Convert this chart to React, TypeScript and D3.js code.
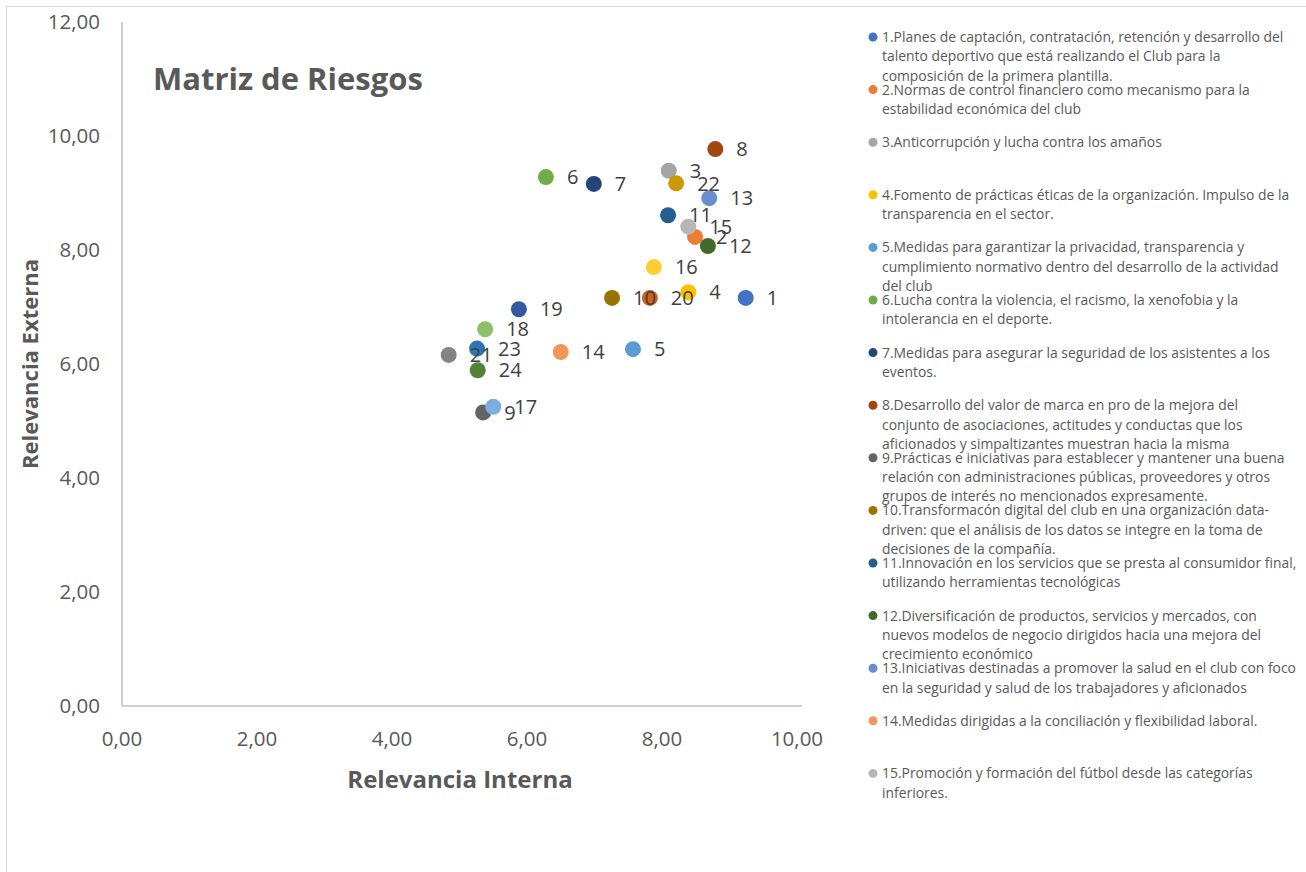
import React from 'react';
import * as d3 from 'd3';

const pointIds = ['1','2','3','4','5','6','7','8','9','10','11','12','13','14','15','16','17','18','19','20','21','22','23','24'];
const relevanciaInterna = [9.24, 8.49, 8.10, 8.39, 7.57, 6.28, 6.99, 8.79, 5.35, 7.26, 8.09, 8.68, 8.70, 6.50, 8.39, 7.88, 5.50, 5.38, 5.88, 7.82, 4.84, 8.21, 5.26, 5.27];
const relevanciaExterna = [7.16, 8.23, 9.39, 7.26, 6.26, 9.28, 9.16, 9.77, 5.15, 7.16, 8.61, 8.07, 8.91, 6.21, 8.41, 7.70, 5.25, 6.61, 6.96, 7.16, 6.16, 9.17, 6.27, 5.89];
const pointColors = ['#4472C4','#ED7D31','#A5A5A5','#FFC000','#5B9BD5','#70AD47','#264478','#9E480E','#636363','#997300','#255E91','#43682B','#698ED0','#F1975A','#B7B7B7','#FFCD33','#7CAFDD','#8CC168','#335AA1','#D0601A','#848484','#CC9A00','#2E75B6','#548235'];

const legendLabels = [
  '1.Planes de captación, contratación, retención y desarrollo del\ntalento deportivo que está realizando el Club para la\ncomposición de la primera plantilla.',
  '2.Normas de control financiero como mecanismo para la\nestabilidad económica del club',
  '3.Anticorrupción y lucha contra los amaños',
  '4.Fomento de prácticas éticas de la organización. Impulso de la\ntransparencia en el sector.',
  '5.Medidas para garantizar la privacidad, transparencia y\ncumplimiento normativo dentro del desarrollo de la actividad\ndel club',
  '6.Lucha contra la violencia, el racismo, la xenofobia y la\nintolerancia en el deporte.',
  '7.Medidas para asegurar la seguridad de los asistentes a los\neventos.',
  '8.Desarrollo del valor de marca en pro de la mejora del\nconjunto de asociaciones, actitudes y conductas que los\naficionados y simpaltizantes muestran hacia la misma',
  '9.Prácticas e iniciativas para establecer y mantener una buena\nrelación con administraciones públicas, proveedores y otros\ngrupos de interés no mencionados expresamente.',
  '10.Transformacón digital del club en una organización data-\ndriven: que el análisis de los datos se integre en la toma de\ndecisiones de la compañía.',
  '11.Innovación en los servicios que se presta al consumidor final,\nutilizando herramientas tecnológicas',
  '12.Diversificación de productos, servicios y mercados, con\nnuevos modelos de negocio dirigidos hacia una mejora del\ncrecimiento económico',
  '13.Iniciativas destinadas a promover la salud en el club con foco\nen la seguridad y salud de los trabajadores y aficionados',
  '14.Medidas dirigidas a la conciliación y flexibilidad laboral.',
  '15.Promoción y formación del fútbol desde las categorías\ninferiores.',
];

const chartTitle = 'Matriz de Riesgos';
const xTitle = 'Relevancia Interna';
const yTitle = 'Relevancia Externa';
const xTickValues = [0, 2, 4, 6, 8, 10];
const yTickValues = [0, 2, 4, 6, 8, 10, 12];

const FONT = "'Open Sans', 'Noto Sans', sans-serif";
const TEXT = '#595959';

export default function App() {
  const W = 1306, H = 872;
  const x = d3.scaleLinear().domain([0, 10]).range([122, 797]);
  const y = d3.scaleLinear().domain([0, 12]).range([706, 22]);
  const locale = d3.formatLocale({ decimal: ',', thousands: '.', grouping: [3], currency: ['', '€'] });
  const fmt = locale.format('.2f');
  const idx = d3.range(pointIds.length);

  const legendX = 873;
  const legendY0 = 37;
  const legendStep = 52.6;
  const lineH = 19.3;

  return (
    <svg width={W} height={H} style={{ position: 'absolute', left: 0, top: 0, background: '#fff' }} fontFamily={FONT}>
      <rect x={0} y={0} width={W} height={H} fill="#fff" />
      <rect x={6.5} y={6.5} width={W + 20} height={H + 20} fill="none" stroke="#D9D9D9" strokeWidth={1} />

      <line x1={x(0)} x2={x(10) + 5} y1={y(0)} y2={y(0)} stroke="#BFBFBF" strokeWidth={1.5} />
      <line x1={x(0)} x2={x(0)} y1={y(0)} y2={y(12)} stroke="#BFBFBF" strokeWidth={1.5} />

      {yTickValues.map(v => (
        <text key={'y' + v} x={100} y={y(v)} dy="0.36em" textAnchor="end" fontSize={20.5} fill={TEXT}>{fmt(v)}</text>
      ))}
      {xTickValues.map(v => (
        <text key={'x' + v} x={x(v)} y={739} dy="0.36em" textAnchor="middle" fontSize={20.5} fill={TEXT}>{fmt(v)}</text>
      ))}

      <text x={460} y={788} textAnchor="middle" fontSize={24} fontWeight="bold" fill={TEXT}>{xTitle}</text>
      <text transform={`translate(38,${364}) rotate(-90)`} textAnchor="middle" fontSize={22} fontWeight="bold" fill={TEXT}>{yTitle}</text>

      <text x={153} y={90} fontSize={31} fontWeight="bold" fill={TEXT}>{chartTitle}</text>

      {idx.map(i => (
        <circle key={'p' + i} cx={x(relevanciaInterna[i])} cy={y(relevanciaExterna[i])} r={8} fill={pointColors[i]} />
      ))}
      {idx.map(i => (
        <text key={'l' + i} x={x(relevanciaInterna[i]) + 21} y={y(relevanciaExterna[i])} dy="0.36em" fontSize={20} fill="#404040">{pointIds[i]}</text>
      ))}

      {legendLabels.map((lab, i) => {
        const yy = legendY0 + i * legendStep;
        return (
          <g key={'lg' + i}>
            <circle cx={legendX} cy={yy} r={4.5} fill={pointColors[i]} />
            {lab.split('\n').map((ln, j) => (
              <text key={j} x={882} y={yy + j * lineH} dy="0.36em" fontSize={13.9} fill={TEXT}>{ln}</text>
            ))}
          </g>
        );
      })}
    </svg>
  );
}
